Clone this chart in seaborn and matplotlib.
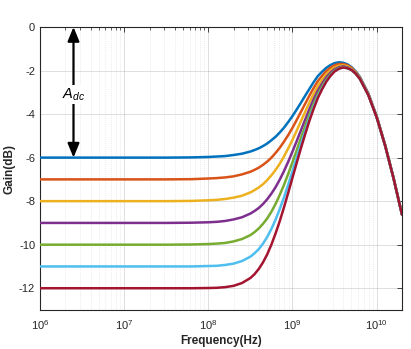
import numpy as np
import pandas as pd
import matplotlib
matplotlib.use("Agg")
import matplotlib.pyplot as plt
from matplotlib.patches import FancyArrowPatch
from matplotlib.ticker import LogLocator, NullFormatter
import seaborn as sns

# Frequency points, as log10(Hz)
log_freq = [6.0, 7.0, 7.5, 7.8, 8.0, 8.1, 8.2, 8.3, 8.4, 8.5, 8.55, 8.6, 8.65, 8.7,
            8.75, 8.8, 8.85, 8.9, 8.95, 9.0, 9.05, 9.1, 9.15, 9.2, 9.25, 9.3, 9.35,
            9.4, 9.45, 9.5, 9.55, 9.6, 9.65, 9.7, 9.75, 9.8, 9.9, 10.0, 10.1, 10.2,
            10.301]

# Gain (dB) for each DC-gain setting
gain_m6 = [-6.00, -6.00, -6.00, -5.99, -5.97, -5.95, -5.93, -5.88, -5.82, -5.72,
           -5.65, -5.57, -5.47, -5.35, -5.20, -5.04, -4.84, -4.62, -4.36, -4.09,
           -3.79, -3.48, -3.16, -2.85, -2.54, -2.26, -2.06, -1.88, -1.75, -1.66,
           -1.62, -1.64, -1.71, -1.84, -2.03, -2.29, -3.04, -4.10, -5.41, -6.93,
           -8.61]
gain_m7 = [-7.00, -7.00, -7.00, -6.99, -6.96, -6.94, -6.91, -6.86, -6.77, -6.65,
           -6.56, -6.46, -6.33, -6.18, -6.00, -5.78, -5.54, -5.26, -4.96, -4.63,
           -4.27, -3.90, -3.53, -3.16, -2.81, -2.49, -2.25, -2.03, -1.87, -1.76,
           -1.70, -1.70, -1.75, -1.87, -2.06, -2.32, -3.06, -4.11, -5.42, -6.93,
           -8.61]
gain_m8 = [-8.00, -8.00, -8.00, -7.99, -7.96, -7.94, -7.90, -7.84, -7.75, -7.60,
           -7.49, -7.37, -7.22, -7.03, -6.81, -6.56, -6.27, -5.94, -5.57, -5.18,
           -4.76, -4.33, -3.90, -3.48, -3.08, -2.72, -2.43, -2.19, -1.99, -1.86,
           -1.78, -1.76, -1.80, -1.92, -2.09, -2.34, -3.08, -4.13, -5.43, -6.94,
           -8.62]
gain_m9 = [-9.00, -9.00, -9.00, -8.99, -8.97, -8.95, -8.91, -8.84, -8.74, -8.57,
           -8.45, -8.31, -8.13, -7.91, -7.65, -7.35, -7.00, -6.61, -6.18, -5.72,
           -5.24, -4.75, -4.26, -3.78, -3.33, -2.93, -2.61, -2.32, -2.10, -1.94,
           -1.85, -1.81, -1.85, -1.95, -2.12, -2.36, -3.10, -4.14, -5.44, -6.94,
           -8.62]
gain_m10 = [-10.00, -10.00, -10.00, -9.99, -9.97, -9.95, -9.92, -9.85, -9.74, -9.56,
            -9.42, -9.25, -9.04, -8.79, -8.48, -8.12, -7.70, -7.24, -6.74, -6.21,
            -5.66, -5.10, -4.56, -4.03, -3.54, -3.09, -2.74, -2.43, -2.18, -2.00,
            -1.89, -1.85, -1.88, -1.97, -2.14, -2.38, -3.11, -4.14, -5.44, -6.94,
            -8.62]
gain_m11 = [-11.00, -11.00, -11.00, -11.00, -10.98, -10.97, -10.93, -10.87, -10.75, -10.55,
            -10.39, -10.20, -9.95, -9.64, -9.27, -8.84, -8.35, -7.81, -7.23, -6.62,
            -6.00, -5.38, -4.78, -4.21, -3.68, -3.20, -2.82, -2.49, -2.23, -2.03,
            -1.91, -1.86, -1.89, -1.97, -2.14, -2.38, -3.11, -4.15, -5.44, -6.94,
            -8.62]
gain_m12 = [-12.00, -12.00, -12.00, -12.00, -11.99, -11.98, -11.95, -11.89, -11.76, -11.53,
            -11.35, -11.11, -10.81, -10.44, -9.99, -9.47, -8.90, -8.27, -7.60, -6.92,
            -6.24, -5.57, -4.93, -4.32, -3.77, -3.27, -2.87, -2.52, -2.25, -2.04,
            -1.92, -1.86, -1.89, -1.97, -2.14, -2.38, -3.12, -4.15, -5.44, -6.94,
            -8.62]

dc_gains = [-6, -7, -8, -9, -10, -11, -12]
series = [gain_m6, gain_m7, gain_m8, gain_m9, gain_m10, gain_m11, gain_m12]
colors = ["#0072BD", "#D95319", "#EDB120", "#7E2F8E", "#77AC30", "#4DBEEE", "#A2142F"]

y_ticks = [-12, -10, -8, -6, -4, -2, 0]
adc_arrow_x = 2.5e6

frames = []
for dc, g in zip(dc_gains, series):
    frames.append(pd.DataFrame({"freq": 10 ** np.array(log_freq), "gain": g, "dc": dc}))
df = pd.concat(frames, ignore_index=True)

sns.set_theme(style="white")
plt.rcParams["font.family"] = ["Liberation Sans", "DejaVu Sans"]
plt.rcParams["mathtext.fontset"] = "custom"
plt.rcParams["mathtext.rm"] = "Liberation Sans"
plt.rcParams["mathtext.it"] = "Liberation Sans:italic"
plt.rcParams["axes.unicode_minus"] = False

ink = "#262626"
fig = plt.figure(figsize=(4.11, 3.49), dpi=100)
ax = fig.add_axes([40 / 411, 1 - 310 / 349, 362 / 411, 283 / 349])

sns.lineplot(data=df, x="freq", y="gain", hue="dc", hue_order=dc_gains,
             palette=colors, linewidth=1.8, legend=False, sort=False,
             estimator=None, ax=ax, zorder=3)

ax.set_xscale("log")
ax.set_xlim(1e6, 2e10)
ax.set_ylim(-13, 0)
ax.set_yticks(y_ticks)
ax.set_yticklabels([str(t) for t in y_ticks])
ax.xaxis.set_minor_locator(LogLocator(base=10, subs=np.arange(2, 10), numticks=20))
ax.xaxis.set_minor_formatter(NullFormatter())

ax.set_axisbelow(True)
ax.grid(True, which="major", color=ink, alpha=0.15, linewidth=0.7, linestyle="-")
ax.grid(True, which="minor", axis="x", color=ink, alpha=0.18, linewidth=0.5,
        linestyle=(0, (1, 2)))

for s in ax.spines.values():
    s.set_color(ink)
    s.set_linewidth(0.8)
ax.tick_params(axis="both", which="both", direction="in", top=True, right=True,
               colors=ink, labelsize=8)
ax.tick_params(axis="both", which="major", length=3.5, width=0.6)
ax.tick_params(axis="x", which="minor", length=2, width=0.5)
ax.tick_params(axis="x", which="major", pad=6)
ax.tick_params(axis="y", which="major", pad=3.5)

ax.set_xlabel("Frequency(Hz)", fontsize=8.5, fontweight="bold", color=ink, labelpad=2)
ax.set_ylabel("Gain(dB)", fontsize=8.5, fontweight="bold", color=ink, labelpad=2.5)

# DC gain span marker
arrow = FancyArrowPatch((adc_arrow_x, 0), (adc_arrow_x, dc_gains[0]),
                        arrowstyle="<|-|>,head_length=0.85,head_width=0.35",
                        mutation_scale=10, color="black", linewidth=1.6,
                        shrinkA=0, shrinkB=0, clip_on=False, zorder=4)
ax.add_patch(arrow)
ax.text(adc_arrow_x, -3.1, r"$A_{dc}$", ha="center", va="center", fontsize=10.5,
        color="black", zorder=5,
        bbox=dict(facecolor="white", edgecolor="none", pad=1.2))

fig.savefig("out.png", dpi=100, facecolor="white")
